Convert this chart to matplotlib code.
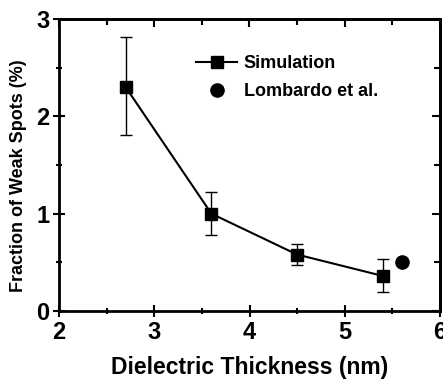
import matplotlib
matplotlib.use("Agg")
import matplotlib.pyplot as plt
from matplotlib.ticker import MultipleLocator

plt.rcParams['font.family'] = ['Liberation Sans', 'DejaVu Sans']
plt.rcParams['font.weight'] = 'bold'

# Simulation data
thickness = [2.7, 3.6, 4.5, 5.4]
weak_frac = [2.30, 1.00, 0.58, 0.36]
err_low = [1.81, 0.78, 0.47, 0.20]
err_high = [2.81, 1.22, 0.69, 0.53]

# Lombardo et al. measurement
lomb_x = [5.6]
lomb_y = [0.50]

yerr = [[v - lo for v, lo in zip(weak_frac, err_low)],
        [hi - v for v, hi in zip(weak_frac, err_high)]]

fig = plt.figure(figsize=(4.43, 3.8), dpi=100)
ax = fig.add_axes([59 / 443, 1 - 311 / 380, 381 / 443, 292 / 380])

ax.errorbar(thickness, weak_frac, yerr=yerr, fmt='none', ecolor='black',
            elinewidth=1.0, capsize=4, capthick=1.0, zorder=2)
ax.plot(thickness, weak_frac, '-s', color='black', lw=1.5, ms=9,
        label='Simulation', zorder=3)
ax.plot(lomb_x, lomb_y, 'o', color='black', ms=9.5, ls='none',
        label='Lombardo et al.', zorder=3)

ax.set_xlim(2, 6)
ax.set_ylim(0, 3)
for a in (ax.xaxis, ax.yaxis):
    a.set_major_locator(MultipleLocator(1))
    a.set_minor_locator(MultipleLocator(0.5))
ax.tick_params(which='both', direction='inout', width=1.5, labelsize=17)
ax.tick_params(which='major', length=8)
ax.tick_params(which='minor', length=5)
ax.tick_params(axis='x', pad=3)
ax.tick_params(axis='y', pad=3)

# inward ticks on top and right
top = ax.secondary_xaxis('top')
right = ax.secondary_yaxis('right')
for sec, a in ((top, top.xaxis), (right, right.yaxis)):
    a.set_major_locator(MultipleLocator(1))
    a.set_minor_locator(MultipleLocator(0.5))
    sec.tick_params(which='both', direction='in', width=1.5,
                    labeltop=False, labelright=False)
    sec.tick_params(which='major', length=6)
    sec.tick_params(which='minor', length=4)
    for s in sec.spines.values():
        s.set_linewidth(2)
for s in ax.spines.values():
    s.set_linewidth(2)

ax.set_xlabel('Dielectric Thickness (nm)', fontsize=16.5, fontweight='bold',
              labelpad=9)
ax.set_ylabel('Fraction of Weak Spots (%)', fontsize=13, fontweight='bold')
ax.yaxis.set_label_coords(-0.085, 0.465)

ax.legend(loc='upper left', bbox_to_anchor=(0.34, 0.90), frameon=False,
          fontsize=13, handlelength=2.3, handletextpad=0.35, labelspacing=0.6,
          borderaxespad=0)

fig.savefig('out.png', dpi=100)
